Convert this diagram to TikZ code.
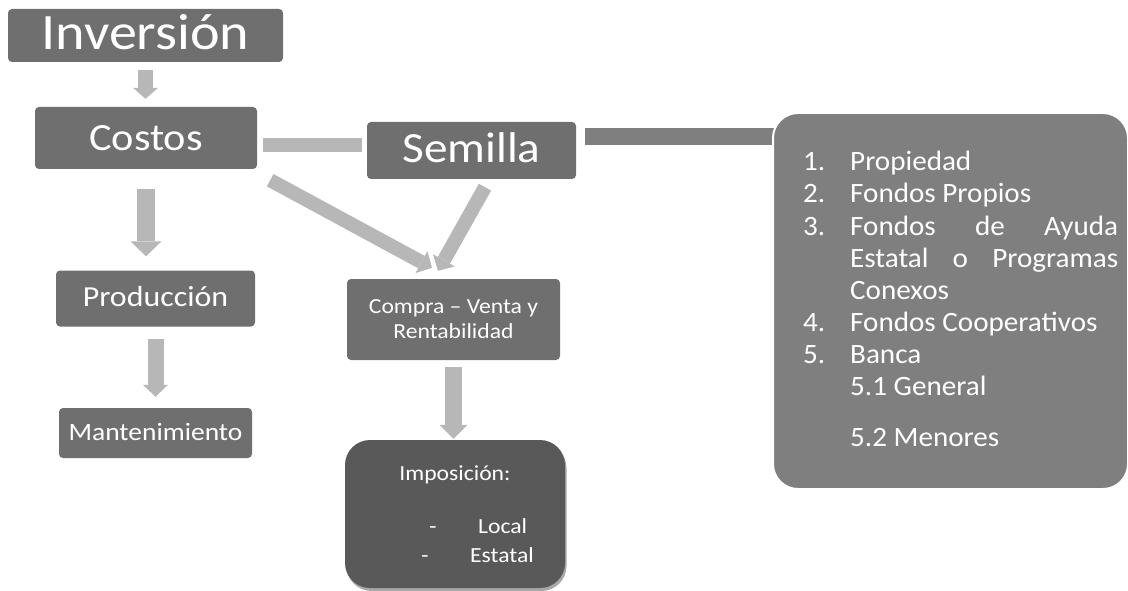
\documentclass[tikz,border=0pt]{standalone}
\usepackage{fontspec}
\setmainfont[FakeStretch=1.1]{Carlito}
\newfontfamily\listfont[FakeStretch=1.04]{Carlito}
\usetikzlibrary{arrows.meta,calc,shadows,backgrounds}
\definecolor{boxgray}{HTML}{6F6F6F}
\definecolor{arrowgray}{HTML}{B7B7B7}
\definecolor{biggray}{HTML}{7F7F7F}
\definecolor{impgray}{HTML}{595959}
\definecolor{shadowgray}{HTML}{A8A8A8}
\begin{document}
\begin{tikzpicture}[x=1pt,y=-1pt,
  box/.style={fill=boxgray, rounded corners=4pt, inner sep=0pt, text=white},
  blockarrow/.style n args={3}{draw=arrowgray, line width=#1,
     -{Triangle[width=#2,length=#3,line width=0pt]}},
  listtxt/.style={anchor=base west, inner sep=0pt, text=white, font=\listfont\fontsize{28}{32}\selectfont},
  imptxt/.style={inner sep=0pt, text=white, font=\fontsize{21.5}{25}\selectfont},
]
\useasboundingbox (0,0) rectangle (1128,591);

% boxes
\node[box, minimum width=275pt, minimum height=53pt, text height=29pt, text depth=0pt,
      font=\fontsize{51}{60}\selectfont] (inv) at (145.5,35.5) {Inversión};
\node[box, minimum width=222pt, minimum height=62pt, text height=26pt, text depth=0pt,
      font=\fontsize{38.5}{44}\selectfont] (cos) at (146,138) {Costos};
\node[box, minimum width=209pt, minimum height=57pt, text height=25pt, text depth=0pt,
      font=\fontsize{43}{50}\selectfont] (sem) at (471.5,150.5) {Semilla};
\node[box, minimum width=199pt, minimum height=56pt, text height=15pt, text depth=0pt,
      font=\fontsize{29}{33}\selectfont] (prod) at (155.5,298.5) {Producción};
\node[box, minimum width=193pt, minimum height=50pt, text height=14pt, text depth=0pt,
      font=\fontsize{25}{30}\selectfont] (mant) at (155.5,433) {Mantenimiento};
\node[box, minimum width=213pt, minimum height=81pt, align=center,
      font=\fontsize{21.5}{25}\selectfont] (comp) at (453.5,319.5) {Compra – Venta y\\Rentabilidad};
\node[fill=impgray, rounded corners=25pt, inner sep=0pt, minimum width=220pt, minimum height=148pt,
      general shadow={fill=shadowgray, shadow xshift=1.5pt, shadow yshift=-3pt}] (imp) at (455,514) {};
\node[fill=biggray, draw=white, line width=2pt, rounded corners=25pt, inner sep=0pt,
      minimum width=355pt, minimum height=376pt] (big) at (950.5,301) {};

% Imposición text
\node[imptxt, anchor=base] (impt) at (455,480) {Imposición:};
\node[imptxt, anchor=base] (d1) at (433,533) {-};
\node[imptxt, anchor=base west] (loc) at (478,533) {Local};
\node[imptxt, anchor=base] (d2) at (425,562) {-};
\node[imptxt, anchor=base west] (est) at (470,562) {Estatal};

% list text
\node[listtxt] (n1) at (803,171) {1.};
\node[listtxt] (t1) at (850,171) {Propiedad};
\node[listtxt] (n2) at (803,203) {2.};
\node[listtxt] (t2) at (850,203) {Fondos Propios};
\node[listtxt] (n3) at (803,235) {3.};
\node[listtxt] (t3) at (850,235) {\makebox[268pt][s]{Fondos\hfill de\hfill Ayuda}};
\node[listtxt] (t3b) at (850,267) {\makebox[268pt][s]{Estatal\hfill o\hfill Programas}};
\node[listtxt] (t3c) at (850,299) {Conexos};
\node[listtxt] (n4) at (803,331) {4.};
\node[listtxt] (t4) at (850,331) {Fondos Cooperativos};
\node[listtxt] (n5) at (803,363) {5.};
\node[listtxt] (t5) at (850,363) {Banca};
\node[listtxt] (t51) at (850,395) {5.1 General};
\node[listtxt] (t52) at (850,446) {5.2 Menores};

% connectors
\coordinate (b1) at ($(sem.north east)+(9,14.5)$);
\coordinate (c1) at ($(cos.east)+(6,7)$);
\begin{pgfonlayer}{background}
\draw[draw=biggray, line width=17pt] (b1) -- ($(b1 -| big.west)+(20,0)$);
\end{pgfonlayer}
\draw[draw=arrowgray, line width=14pt] (c1) -- ($(c1 -| sem.west)+(-5,0)$);
\draw[blockarrow={15pt}{25pt}{11pt}] ($(inv.south)+(0,8)$) -- ($(inv.south |- cos.north)+(0,-8)$);
\draw[blockarrow={18pt}{31pt}{15pt}] ($(cos.south)+(0,20)$) -- ($(cos.south |- prod.north)+(0,-14)$);
\draw[blockarrow={16pt}{25pt}{12pt}] ($(prod.south)+(0,12)$) -- ($(prod.south |- mant.north)+(0,-11)$);
\draw[blockarrow={17pt}{28pt}{14pt}] ($(comp.south)+(0,7)$) -- ($(comp.south |- imp.north)+(0,-1)$);
\draw[blockarrow={14pt}{25pt}{12pt}] ($(cos.south east)+(13,11)$) -- ($(comp.north)+(-21.5,-11)$);
\draw[blockarrow={14pt}{25pt}{12pt}] ($(sem.south)+(13.5,8)$) -- ($(comp.north)+(-15.5,-8)$);
\end{tikzpicture}
\end{document}
